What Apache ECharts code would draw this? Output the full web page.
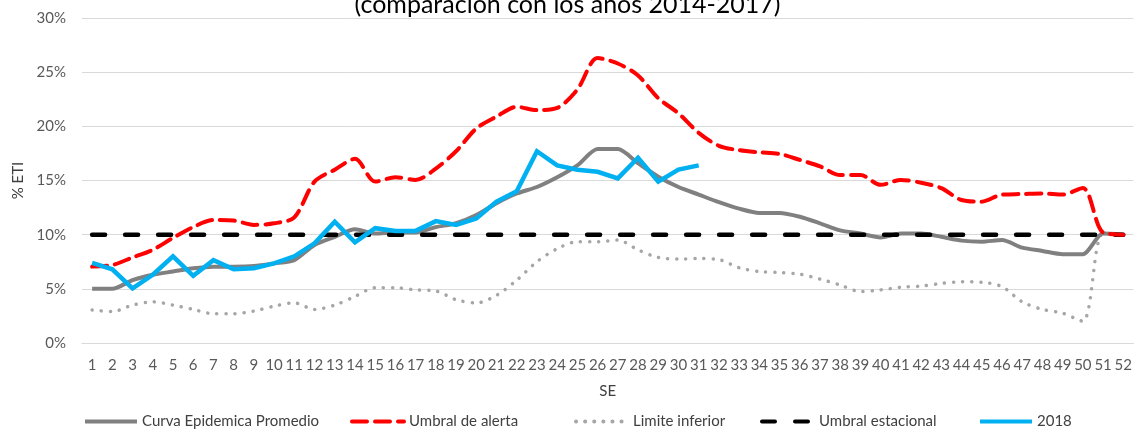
<!DOCTYPE html>
<html>
<head>
<meta charset="utf-8">
<script src="https://cdn.jsdelivr.net/npm/echarts@6/dist/echarts.min.js"></script>
<style>
  html, body { margin: 0; padding: 0; background: #fff; }
  #chart { width: 1135px; height: 430px; }
</style>
</head>
<body>
<div id="chart"></div>
<script>
// semanas epidemiologicas
var semanas = ['1','2','3','4','5','6','7','8','9','10','11','12','13','14','15','16','17','18','19','20',
  '21','22','23','24','25','26','27','28','29','30','31','32','33','34','35','36','37','38','39','40',
  '41','42','43','44','45','46','47','48','49','50','51','52']

var curvaPromedio = [5.0, 5.0, 5.8, 6.3, 6.6, 6.9, 7.05, 7.05, 7.1, 7.35, 7.65, 9.05, 9.8, 10.5, 10.1, 10.2, 10.2, 10.7, 11.05, 11.8,
  12.9, 13.8, 14.4, 15.3, 16.4, 17.9, 17.9, 16.6, 15.35, 14.4, 13.7, 13.0, 12.4, 12.0, 12.0, 11.65, 11.05, 10.4, 10.1, 9.75,
  10.1, 10.1, 9.8, 9.45, 9.35, 9.5, 8.8, 8.5, 8.2, 8.2, 10.1, 10.0]

var umbralAlerta = [7.05, 7.2, 7.9, 8.6, 9.7, 10.7, 11.35, 11.3, 10.9, 11.05, 11.6, 14.9, 16.0, 17.0, 14.9, 15.3, 15.05, 16.1, 17.7, 19.8,
  20.9, 21.8, 21.5, 21.7, 23.4, 26.3, 25.8, 24.7, 22.6, 21.2, 19.4, 18.2, 17.8, 17.6, 17.45, 16.9, 16.3, 15.5, 15.5, 14.6,
  15.05, 14.8, 14.3, 13.2, 13.05, 13.7, 13.75, 13.8, 13.7, 14.3, 10.2, 10.0]

var limiteInferior = [3.05, 2.9, 3.5, 3.8, 3.5, 3.1, 2.7, 2.7, 2.95, 3.4, 3.7, 3.1, 3.5, 4.3, 5.1, 5.1, 4.9, 4.8, 4.0, 3.7,
  4.4, 5.8, 7.5, 8.7, 9.35, 9.35, 9.5, 8.6, 7.9, 7.75, 7.8, 7.7, 6.95, 6.6, 6.5, 6.35, 5.9, 5.35, 4.75, 4.9,
  5.15, 5.25, 5.5, 5.65, 5.6, 5.2, 3.8, 3.1, 2.75, 2.0, 10.1, 10.0]

var umbralEstacional = [10, 10, 10, 10, 10, 10, 10, 10, 10, 10, 10, 10, 10, 10, 10, 10, 10, 10, 10, 10,
  10, 10, 10, 10, 10, 10, 10, 10, 10, 10, 10, 10, 10, 10, 10, 10, 10, 10, 10, 10,
  10, 10, 10, 10, 10, 10, 10, 10, 10, 10, 10, 10]

var anio2018 = [7.4, 6.8, 5.05, 6.3, 8.0, 6.2, 7.65, 6.8, 6.9, 7.35, 8.0, 9.2, 11.2, 9.3, 10.6, 10.35, 10.35, 11.25, 10.9, 11.5,
  13.05, 14.0, 17.7, 16.4, 16.0, 15.8, 15.2, 17.1, 14.9, 16.0, 16.4]

var fuente = 'Lato, "Open Sans", sans-serif'

function leyenda(nombre, left) {
  return {
    data: [nombre],
    left: left,
    top: 414,
    padding: 0,
    itemWidth: 52,
    itemHeight: 14,
    itemStyle: { opacity: 0 },
    lineStyle: { width: 4 },
    textStyle: { fontFamily: fuente, fontSize: 15, color: '#404040' },
    selectedMode: false
  }
}

var myChart = echarts.init(document.getElementById('chart'))

var option = {
  animation: false,
  title: {
    text: '(comparación con los años 2014-2017)',
    left: 'center',
    top: -13,
    textStyle: { fontFamily: fuente, fontSize: 25, fontWeight: 'normal', color: '#000' }
  },
  legend: [
    leyenda('Curva Epidemica Promedio', 83),
    leyenda('Umbral de alerta', 350),
    leyenda('Limite inferior', 574),
    leyenda('Umbral estacional', 760),
    leyenda('2018', 978)
  ],
  grid: { left: 82, right: 1, top: 18, bottom: 87 },
  xAxis: {
    type: 'category',
    data: semanas,
    boundaryGap: true,
    name: 'SE',
    nameLocation: 'middle',
    nameGap: 41,
    nameTextStyle: { fontFamily: fuente, fontSize: 15, color: '#404040' },
    axisLine: { show: true, lineStyle: { color: '#d9d9d9', width: 1 } },
    axisTick: { show: false },
    axisLabel: { interval: 0, margin: 15, fontFamily: fuente, fontSize: 15, color: '#595959' }
  },
  yAxis: {
    type: 'value',
    min: 0,
    max: 30,
    interval: 5,
    name: '% ETI',
    nameLocation: 'middle',
    nameRotate: 90,
    nameGap: 56,
    nameTextStyle: { fontFamily: fuente, fontSize: 15, color: '#404040' },
    axisLine: { show: false },
    axisTick: { show: false },
    axisLabel: { formatter: '{value}%', margin: 16, fontFamily: fuente, fontSize: 15, color: '#595959' },
    splitLine: { lineStyle: { color: '#d9d9d9', width: 1 } }
  },
  series: [
    {
      name: 'Curva Epidemica Promedio',
      type: 'line',
      data: curvaPromedio,
      symbol: 'none',
      smooth: 0.25,
      color: '#808080',
      lineStyle: { color: '#808080', width: 4 },
      z: 3
    },
    {
      name: 'Umbral de alerta',
      type: 'line',
      data: umbralAlerta,
      symbol: 'none',
      smooth: 0.3,
      color: '#ff0000',
      lineStyle: { color: '#ff0000', width: 4, type: [15, 8], cap: 'round' },
      z: 4
    },
    {
      name: 'Limite inferior',
      type: 'line',
      data: limiteInferior,
      symbol: 'none',
      smooth: 0.3,
      color: '#a6a6a6',
      lineStyle: { color: '#a6a6a6', width: 3.5, type: [0.1, 9], cap: 'round' },
      z: 2
    },
    {
      name: 'Umbral estacional',
      type: 'line',
      data: umbralEstacional,
      symbol: 'none',
      color: '#000000',
      lineStyle: { color: '#000000', width: 4.5, type: [13, 20], cap: 'round' },
      z: 3
    },
    {
      name: '2018',
      type: 'line',
      data: anio2018,
      symbol: 'none',
      color: '#00b0f0',
      lineStyle: { color: '#00b0f0', width: 4.5, join: 'miter' },
      z: 5
    }
  ]
}

if (option && typeof option === 'object') {
  myChart.setOption(option, true)
}
</script>
</body>
</html>
